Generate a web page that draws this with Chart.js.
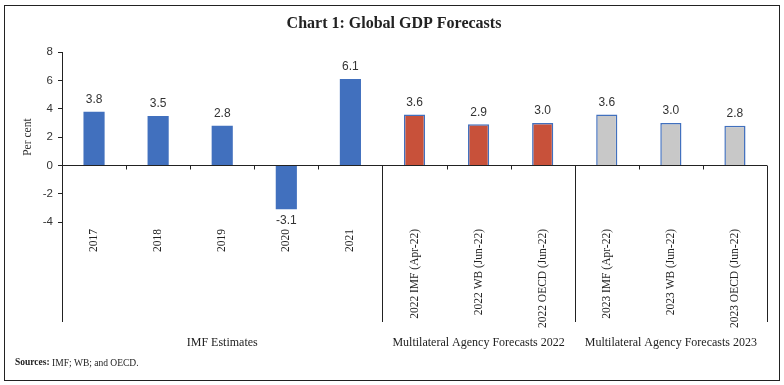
<!DOCTYPE html>
<html lang="en">
  <head>
    <meta charset="UTF-8" />
    <title>Chart 1: Global GDP Forecasts</title>
    <script src="https://cdn.jsdelivr.net/npm/chart.js"></script>
    <style>
      html, body { margin: 0; padding: 0; background: #fff; }
      #wrap { position: relative; width: 784px; height: 385px; }
    </style>
  </head>
  <body>
    <div id="wrap"><canvas id="gdpChart" width="784" height="385"></canvas></div>
    <script>
      // Data
      const categories = [
        '2017', '2018', '2019', '2020', '2021',
        '2022 IMF (Apr-22)', '2022 WB (Jun-22)', '2022 OECD (Jun-22)',
        '2023 IMF (Apr-22)', '2023 WB (Jun-22)', '2023 OECD (Jun-22)'
      ];
      const growth = [3.8, 3.5, 2.8, -3.1, 6.1, 3.6, 2.9, 3.0, 3.6, 3.0, 2.8];
      const groupNames = ['IMF Estimates', 'Multilateral Agency Forecasts 2022', 'Multilateral Agency Forecasts 2023'];
      const groupStarts = [0, 5, 8];
      const groupEnds = [4, 7, 10];
      const yTicks = [8, 6, 4, 2, 0, -2, -4];

      const BLUE = '#4170BE';
      const groupFill = ['#4170BE', '#C8513A', '#C8C8C8'];

      function groupOf(i) {
        for (let g = 0; g < groupStarts.length; g++) {
          if (i >= groupStarts[g] && i <= groupEnds[g]) return g;
        }
        return 0;
      }

      const serif = '"Liberation Serif", "DejaVu Serif", serif';
      const sans = '"Liberation Sans", Arial, sans-serif';
      const LABEL_BAND = 100; // depth of the category label band below the plot

      // draws the frame, value labels, category separators and group labels
      const extras = {
        id: 'extras',
        afterDraw(chart) {
          const ctx = chart.ctx;
          const x = chart.scales.x;
          const y = chart.scales.y;
          const area = chart.chartArea;
          const zero = Math.round(y.getPixelForValue(0)) + 0.5;
          const bottom = area.bottom + LABEL_BAND;

          ctx.save();
          ctx.strokeStyle = '#222';
          ctx.lineWidth = 1;

          // outer frame
          ctx.strokeRect(4.5, 5.5, 775, 375);

          const edge = i => (x.getPixelForValue(i) + x.getPixelForValue(i + 1)) / 2;
          ctx.beginPath();
          // extend y axis through the label area
          ctx.moveTo(Math.round(area.left) + 0.5, area.bottom);
          ctx.lineTo(Math.round(area.left) + 0.5, bottom);
          for (let i = 0; i < categories.length; i++) {
            const px = Math.round(i === categories.length - 1 ? area.right : edge(i)) + 0.5;
            const isGroupEnd = groupEnds.includes(i);
            ctx.moveTo(px, zero);
            ctx.lineTo(px, isGroupEnd ? bottom : zero + 4);
          }
          ctx.stroke();

          // value labels
          ctx.fillStyle = '#333';
          ctx.font = '12px ' + sans;
          ctx.textAlign = 'center';
          ctx.textBaseline = 'middle';
          const meta = chart.getDatasetMeta(0);
          meta.data.forEach((bar, i) => {
            const v = growth[i];
            const ly = v >= 0 ? bar.y - 12 : bar.y + 11;
            ctx.fillText(v.toFixed(1), bar.x, ly);
          });

          // group labels
          ctx.fillStyle = '#222';
          ctx.font = '12px ' + serif;
          groupNames.forEach((name, g) => {
            const l = groupStarts[g] === 0 ? area.left : edge(groupStarts[g] - 1);
            const r = groupEnds[g] === categories.length - 1 ? area.right : edge(groupEnds[g]);
            ctx.fillText(name, (l + r) / 2, bottom + 21);
          });

          // sources
          ctx.textAlign = 'left';
          ctx.font = 'bold 9.5px ' + serif;
          ctx.fillText('Sources:', 15, 363);
          const w = ctx.measureText('Sources: ').width;
          ctx.font = '9.5px ' + serif;
          ctx.fillText('IMF; WB; and OECD.', 15 + w, 363);
          ctx.restore();
        }
      };

      new Chart(document.getElementById('gdpChart'), {
        type: 'bar',
        data: {
          labels: categories,
          datasets: [{
            data: growth,
            backgroundColor: growth.map((v, i) => groupFill[groupOf(i)]),
            borderColor: BLUE,
            borderWidth: growth.map((v, i) => (groupOf(i) === 0 ? 0 : 1.5)),
            barPercentage: 0.33,
            categoryPercentage: 1.0
          }]
        },
        options: {
          responsive: false,
          animation: false,
          layout: { padding: { left: 21, right: 17, top: 0, bottom: 51 } },
          plugins: {
            legend: { display: false },
            tooltip: { enabled: false },
            title: {
              display: true,
              text: 'Chart 1: Global GDP Forecasts',
              color: '#222',
              font: { family: serif, size: 16, weight: 'bold' },
              padding: { top: 14, bottom: 19 }
            }
          },
          scales: {
            x: {
              grid: { display: false, drawTicks: false },
              border: { display: false },
              ticks: {
                autoSkip: false,
                maxRotation: 90,
                minRotation: 90,
                padding: 7,
                color: '#222',
                font: { family: serif, size: 11.5 }
              },
              afterFit(scale) { scale.height = 112; }
            },
            y: {
              min: -4,
              max: 8,
              afterBuildTicks(scale) { scale.ticks = yTicks.map(v => ({ value: v })); },
              grid: {
                color: c => (c.tick && c.tick.value === 0 ? '#222' : 'rgba(0,0,0,0)'),
                tickColor: '#222',
                tickLength: 4,
                drawTicks: true
              },
              border: { display: true, color: '#222' },
              ticks: {
                padding: 5,
                color: '#333',
                font: { family: sans, size: 11.5 }
              },
              title: {
                display: true,
                text: 'Per cent',
                color: '#333',
                padding: { top: 0, bottom: 0 },
                font: { family: serif, size: 11.5 }
              },
              afterFit(scale) { scale.width = 41; }
            }
          }
        },
        plugins: [extras]
      });
    </script>
  </body>
</html>
